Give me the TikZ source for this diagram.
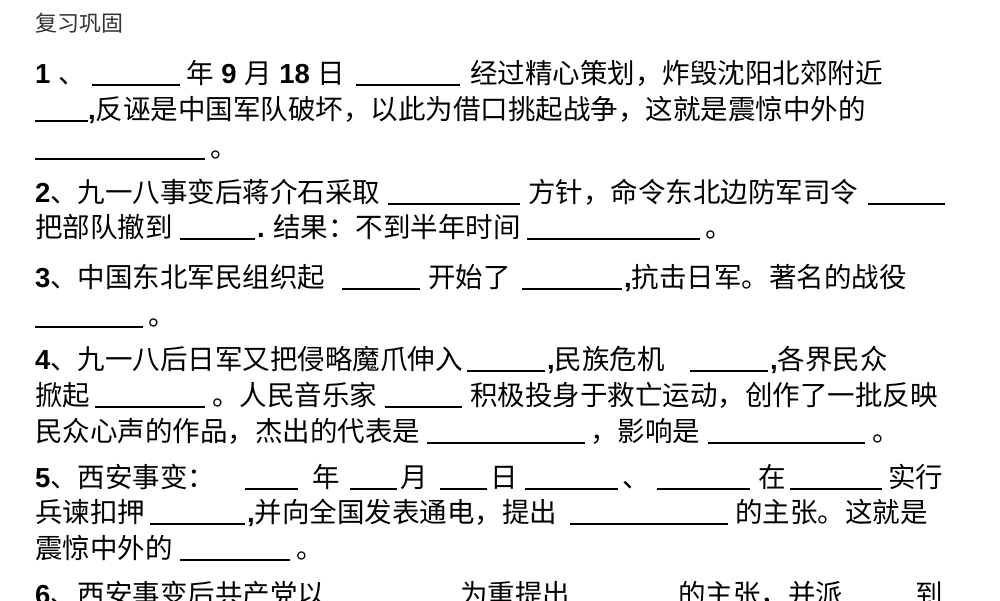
\documentclass[tikz,border=0pt]{standalone}
\usepackage{fontspec}
\setmainfont{Noto Sans CJK SC}
\newfontfamily\latn{Liberation Sans}
\newcommand{\N}[1]{{\latn\bfseries #1}}
\begin{document}
\begin{tikzpicture}[x=1pt,y=-1pt,
  txt/.style={anchor=base west,inner sep=0pt,font=\fontsize{27.5}{30}\selectfont},
  blank/.style={line width=1.6pt}]
\newcommand{\T}[3]{\node[txt] at (#1,#2) {#3};}
\newcommand{\B}[3]{\draw[blank] (#1,#3+2) -- (#2,#3+2);}
\useasboundingbox (0,0) rectangle (1000,600);
\node[anchor=base west,inner sep=0pt,font=\fontsize{22}{24}\selectfont,text=black!80] (h) at (35,31) {复习巩固};
% Q1
\T{35}{83}{\N{1 }、} \B{92}{180}{83} \T{186}{83}{年\N{ 9 }月\N{ 18 }日} \B{356}{460}{83} \T{470}{83}{经过精心策划，炸毁沈阳北郊附近}
\B{35}{88}{119} \T{88}{119}{\N{,}反诬是中国军队破坏，以此为借口挑起战争，这就是震惊中外的}
\B{35}{205}{157} \T{210}{157}{。}
% Q2
\T{35}{202}{\N{2}、九一八事变后蒋介石采取} \B{388}{520}{202} \T{528}{202}{方针，命令东北边防军司令} \B{868}{945}{202}
\T{35}{237}{把部队撤到} \B{180}{255}{237} \T{257}{237}{\N{.} 结果：不到半年时间} \B{527}{700}{237} \T{705}{237}{。}
% Q3
\T{35}{287}{\N{3}、中国东北军民组织起} \B{342}{420}{287} \T{428}{287}{开始了} \B{522}{622}{287} \T{624}{287}{\N{,}抗击日军。著名的战役}
\B{35}{143}{325} \T{148}{325}{。}
% Q4
\T{35}{369}{\N{4}、九一八后日军又把侵略魔爪伸入} \B{467}{545}{369} \T{547}{369}{\N{,}民族危机} \B{690}{768}{369} \T{770}{369}{\N{,}各界民众}
\T{35}{405}{掀起} \B{95}{205}{405} \T{212}{405}{。人民音乐家} \B{385}{462}{405} \T{470}{405}{积极投身于救亡运动，创作了一批反映}
\T{35}{441}{民众心声的作品，杰出的代表是} \B{427}{585}{441} \T{590}{441}{，影响是} \B{708}{865}{441} \T{872}{441}{。}
% Q5
\T{35}{487}{\N{5}、西安事变：} \B{245}{298}{487} \T{312}{487}{年} \B{350}{397}{487} \T{400}{487}{月} \B{440}{487}{487} \T{490}{487}{日} \B{525}{618}{487} \T{622}{487}{、} \B{657}{750}{487} \T{758}{487}{在} \B{790}{882}{487} \T{888}{487}{实行}
\T{35}{522}{兵谏扣押} \B{150}{245}{522} \T{247}{522}{\N{,}并向全国发表通电，提出} \B{570}{728}{522} \T{735}{522}{的主张。这就是}
\T{35}{558}{震惊中外的} \B{180}{290}{558} \T{296}{558}{。}
% Q6
\T{35}{604}{\N{6}、西安事变后共产党以} \T{460}{604}{为重提出} \T{678}{604}{的主张，并派} \T{915}{604}{到}
\end{tikzpicture}
\end{document}
